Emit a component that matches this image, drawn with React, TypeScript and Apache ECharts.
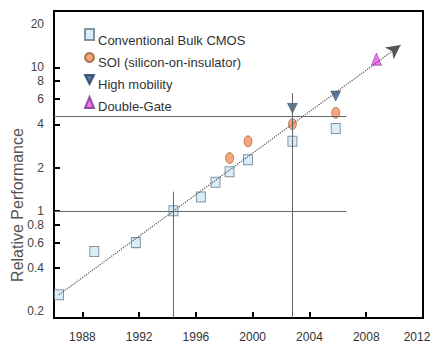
import React, { useEffect, useRef } from "react";
import * as echarts from "echarts";

const bulkX = [1986.35, 1988.84, 1991.77, 1994.42, 1996.35, 1997.38, 1998.37, 1999.67, 2002.8, 2005.85];
const bulkY = [0.26, 0.52, 0.6, 1.0, 1.25, 1.58, 1.87, 2.27, 3.05, 3.75];
const soiX = [1998.37, 1999.67, 2002.8, 2005.85];
const soiY = [2.33, 3.05, 4.02, 4.82];
const hmX = [2002.8, 2005.85];
const hmY = [5.18, 6.31];
const dgX = [2008.72];
const dgY = [11.4];

const seriesNames = ["Conventional Bulk CMOS", "SOI (silicon-on-insulator)", "High mobility", "Double-Gate"];

const xLabelValues = [1988, 1992, 1996, 2000, 2004, 2008, 2012];
const xTickValues = [1988, 1992, 1996, 2000, 2004, 2008];
const yLabelValues = [0.2, 0.4, 0.6, 0.8, 1, 2, 4, 6, 8, 10, 20];
const yTickValues = [0.4, 0.6, 0.8, 1, 2, 4, 6, 8, 10];

const yMin = 0.179;
const yMax = 24.7;
const xMin = 1986;
const xMax = 2012;

// reference guide lines: [x1, y1, x2, y2]
const hLine1 = [1986, 1, 2006.6, 1];
const hLine2 = [1986, 4.57, 2006.6, 4.57];
const vLine1 = [1994.42, yMin, 1994.42, 1.36];
const vLine2 = [2002.8, yMin, 2002.8, 6.62];
const trend = [1986.35, 0.26, 2010.42, 14.3];

const zip = (xs: number[], ys: number[]) => xs.map((x, i) => [x, ys[i]]);
const seg = (s: number[]) => [{ coord: [s[0], s[1]] }, { coord: [s[2], s[3]] }];

const FONT = "Liberation Sans, Arial, Helvetica, sans-serif";

export default function App() {
  const ref = useRef<HTMLDivElement>(null);
  useEffect(() => {
    if (!ref.current) return;
    const chart = echarts.init(ref.current, null, { renderer: "svg" });
    chart.setOption({
      animation: false,
      backgroundColor: "#fff",
      textStyle: { fontFamily: FONT },
      grid: {
        left: 54,
        right: 10,
        top: 11,
        bottom: 27,
        containLabel: false,
        outerBoundsMode: "none",
        show: true,
        borderColor: "#000",
        borderWidth: 2,
      },
      legend: [
        {
          // symbols only
          orient: "vertical",
          left: 84,
          top: 28,
          padding: 0,
          itemWidth: 9,
          itemHeight: 11,
          itemGap: 11,
          data: seriesNames,
          formatter: () => "",
          textStyle: { fontSize: 8, lineHeight: 8 },
          selectedMode: false,
        },
        {
          // texts only
          orient: "vertical",
          left: 84,
          top: 33,
          padding: 0,
          icon: "none",
          itemWidth: 9,
          itemHeight: 15,
          itemGap: 7,
          data: seriesNames,
          textStyle: { fontSize: 13, color: "#333", fontFamily: FONT, lineHeight: 15 },
          selectedMode: false,
        },
      ],
      xAxis: {
        type: "value",
        min: xMin,
        max: xMax,
        axisLine: { show: true, onZero: false, lineStyle: { color: "#000", width: 2 } },
        axisTick: { show: true, inside: true, length: 6, lineStyle: { color: "#000", width: 2 }, customValues: xTickValues },
        axisLabel: {
          customValues: xLabelValues,
          color: "#333",
          fontSize: 12,
          margin: 13,
          fontFamily: FONT,
          formatter: (v: number) => (v === xMax ? `{r|${v}}` : `${v}`),
          rich: { r: { padding: [0, 12, 0, 0], fontSize: 12, color: "#333", fontFamily: FONT } },
        },
        splitLine: { show: false },
      },
      yAxis: [
        {
          type: "log",
          min: yMin,
          max: yMax,
          axisLine: { show: true, onZero: false, lineStyle: { color: "#000", width: 2 } },
          axisTick: { show: false },
          axisLabel: { show: false },
          splitLine: { show: false },
          minorTick: { show: false },
        },
        {
          type: "value",
          position: "left",
          min: Math.log10(yMin),
          max: Math.log10(yMax),
          axisLine: { show: false, onZero: false },
          axisTick: {
            show: true,
            inside: true,
            length: 6,
            lineStyle: { color: "#000", width: 2 },
            customValues: yTickValues.map((v) => Math.log10(v)),
          },
          axisLabel: {
            customValues: yLabelValues.map((v) => Math.log10(v)),
            color: "#444",
            fontSize: 12,
            margin: 10,
            fontFamily: FONT,
            formatter: (v: number) => String(parseFloat(Math.pow(10, v).toPrecision(2))),
          },
          splitLine: { show: false },
        },
      ],
      graphic: [
        {
          type: "text",
          x: 17,
          y: 205,
          rotation: Math.PI / 2,
          style: {
            text: "Relative Performance",
            fontSize: 16,
            fill: "#555",
            fontFamily: FONT,
            align: "center",
            verticalAlign: "middle",
          },
        },
      ],
      series: [
        {
          type: "line",
          name: "trend",
          data: [],
          z: 1,
          silent: true,
          markLine: {
            silent: true,
            symbol: ["none", "arrow"],
            symbolSize: [11, 14],
            label: { show: false },
            lineStyle: { color: "#555", width: 1.2, type: "dotted" },
            emphasis: { disabled: true },
            data: [seg(trend)],
          },
        },
        {
          type: "scatter",
          name: seriesNames[0],
          data: zip(bulkX, bulkY),
          symbol: "rect",
          symbolSize: [9, 10],
          z: 2,
          itemStyle: { color: "#cfe9f8", borderColor: "#66798a", borderWidth: 1 },
        },
        {
          type: "scatter",
          name: seriesNames[1],
          data: zip(soiX, soiY),
          symbol: "circle",
          symbolSize: [8, 11],
          z: 2,
          itemStyle: { color: "#f2915a", borderColor: "#9a5a30", borderWidth: 0.8 },
        },
        {
          type: "scatter",
          name: seriesNames[2],
          data: zip(hmX, hmY),
          symbol: "path://M0,0L10,0L5,10Z",
          symbolSize: [10, 10],
          z: 2,
          itemStyle: { color: "#2d5a86", borderColor: "#1f3f60", borderWidth: 0.5 },
        },
        {
          type: "scatter",
          name: seriesNames[3],
          data: zip(dgX, dgY),
          symbol: "triangle",
          symbolSize: [10, 12],
          z: 2,
          itemStyle: { color: "#f050f0", borderColor: "#7a3a8a", borderWidth: 0.8 },
        },
        {
          type: "line",
          name: "guides",
          data: [],
          z: 3,
          silent: true,
          markLine: {
            silent: true,
            symbol: ["none", "none"],
            label: { show: false },
            lineStyle: { color: "#666", width: 1, type: "solid" },
            emphasis: { disabled: true },
            data: [seg(hLine1), seg(hLine2), seg(vLine1), seg(vLine2)],
          },
        },
      ],
    });
    return () => chart.dispose();
  }, []);
  return <div ref={ref} style={{ position: "fixed", left: 0, top: 0, width: 433, height: 345 }} />;
}
